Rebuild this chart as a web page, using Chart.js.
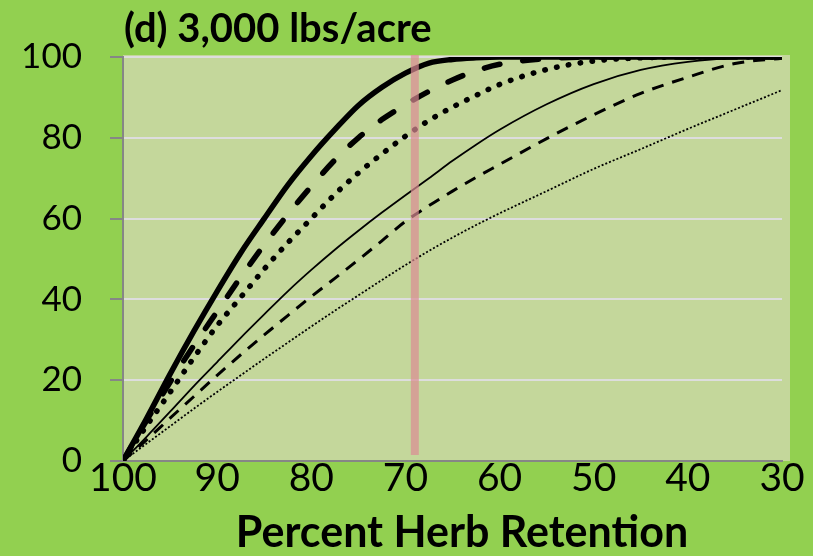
<!DOCTYPE html>
<html><head><meta charset="utf-8">
<script src="https://cdn.jsdelivr.net/npm/chart.js@4"></script>
<style>html,body{margin:0;padding:0;background:#92D050;}#wrap{width:813px;height:556px;position:relative}</style>
</head><body><div id="wrap"><canvas id="c" width="813" height="556"></canvas></div>
<script>
const retention = [100, 97.5, 95, 92.5, 90, 87.5, 85, 82.5, 80, 77.5, 75, 72.5, 70, 67.5, 65, 62.5, 60, 55, 50, 45, 40, 35, 30];
const seriesThickSolid  = [0, 10.5, 21.5, 32, 42, 51.5, 60, 68.3, 75.5, 82, 88, 92.5, 96, 98.5, 99.4, 99.8, 100, 100, 100, 100, 100, 100, 100];
const seriesThickDash   = [0, 10, 19.5, 28.5, 37, 45.5, 53.5, 61, 68, 74.5, 80, 84.5, 88.2, 91.5, 94.3, 96.6, 98.2, 99.6, 100, 100, 100, 100, 100];
const seriesThickDot    = [0, 8.7, 17, 25.5, 33.5, 40.5, 47.5, 54, 60, 66, 71.3, 76, 80.4, 84.3, 87.6, 90.5, 93.2, 96.9, 99, 99.8, 100, 100, 100];
const seriesThinSolid   = [0, 6, 12.2, 18.5, 24.5, 30.5, 36.3, 42, 47.3, 52.3, 57, 61.5, 65.8, 70, 74.3, 78.3, 82, 88.3, 93.3, 96.8, 98.8, 99.8, 100];
const seriesMediumDash  = [0, 5.2, 10.6, 15.9, 21.2, 26.3, 31.2, 36, 40.7, 45.2, 49.8, 54.5, 59.3, 63.2, 66.8, 70.2, 73.4, 79.8, 85.7, 91, 95, 98.4, 99.7];
const seriesThinDot     = [0, 4.3, 8.6, 12.9, 17.1, 21.2, 25.3, 29.3, 33.3, 37.2, 41, 44.8, 48.5, 52, 55.3, 58.4, 61.3, 66.8, 72.3, 77.2, 82.2, 87, 91.8];
const markerX = [69, 69];
const markerY = [1.5, 100.5];
const xTicks = [100, 90, 80, 70, 60, 50, 40, 30];
const yTicks = [0, 20, 40, 60, 80, 100];
const chartTitle = '(d) 3,000 lbs/acre';
const xTitle = 'Percent Herb Retention';

function pts(ys){ return retention.map((x,i)=>({x:x, y:ys[i]})); }

const bgPlugin = {
  id:'bg',
  beforeDraw(chart){
    const ctx = chart.ctx, a = chart.chartArea;
    ctx.save();
    ctx.fillStyle='#92D050'; ctx.fillRect(0,0,chart.width,chart.height);
    ctx.fillStyle='#C4D79B'; ctx.fillRect(a.left, a.top-2, a.right-a.left+8, a.bottom-a.top+2);
    ctx.restore();
  },
  afterDraw(chart){
    const ctx = chart.ctx, a = chart.chartArea;
    ctx.save();
    ctx.fillStyle='#000';
    ctx.font='bold 40px Lato';
    ctx.textBaseline='middle'; ctx.textAlign='left';
    ctx.fillText(chartTitle, a.left+1, 29);
    ctx.font='bold 43px Lato'; ctx.textAlign='center';
    ctx.fillText(xTitle, 462, 533);
    ctx.restore();
  }
};

const common = {fill:false, pointRadius:0, pointHoverRadius:0, cubicInterpolationMode:'monotone', borderColor:'#000', order:1};

new Chart(document.getElementById('c'), {
  type:'line',
  data:{
    datasets:[
      Object.assign({}, common, {data:pts(seriesThickSolid), borderWidth:5.5}),
      Object.assign({}, common, {data:pts(seriesThickDash), borderWidth:5.5, borderDash:[16,23], borderCapStyle:'round'}),
      Object.assign({}, common, {data:pts(seriesThickDot), borderWidth:5.5, borderDash:[0.5,11.5], borderCapStyle:'round'}),
      Object.assign({}, common, {data:pts(seriesThinSolid), borderWidth:1.8}),
      Object.assign({}, common, {data:pts(seriesMediumDash), borderWidth:3, borderDash:[12,9], borderCapStyle:'butt'}),
      Object.assign({}, common, {data:pts(seriesThinDot), borderWidth:1.8, borderDash:[2,2], borderCapStyle:'butt'}),
      {data:markerX.map((x,i)=>({x:x,y:markerY[i]})), borderColor:'rgba(220,140,148,0.7)', borderWidth:8, pointRadius:0, fill:false, clip:false, order:0, borderCapStyle:'butt'}
    ]
  },
  options:{
    responsive:false, animation:false, devicePixelRatio:1,
    layout:{padding:{left:22, right:31, top:57, bottom:0}},
    plugins:{legend:{display:false}, tooltip:{enabled:false}, title:{display:false}},
    scales:{
      x:{
        type:'linear', reverse:true, min:30, max:100,
        afterBuildTicks(s){ s.ticks = xTicks.map(v=>({value:v})); },
        ticks:{font:{family:'Lato', size:39}, color:'#000', maxRotation:0, autoSkip:false, padding:-6},
        grid:{display:false, drawTicks:false},
        border:{display:true, color:'#868686', width:2},
        afterFit(s){ s.height = 95; }
      },
      y:{
        min:0, max:100,
        afterBuildTicks(s){ s.ticks = yTicks.map(v=>({value:v})); },
        ticks:{font:{family:'Lato', size:35}, color:'#000', padding:28},
        grid:{color:(c)=> (c.tick && c.tick.value===0) ? 'rgba(0,0,0,0)' : '#DDDDDD', lineWidth:2, tickLength:13, tickColor:'#868686', drawTicks:true},
        border:{display:true, color:'#868686', width:2},
        afterFit(s){ s.width = 101; }
      }
    }
  },
  plugins:[bgPlugin]
});
</script></body></html>
